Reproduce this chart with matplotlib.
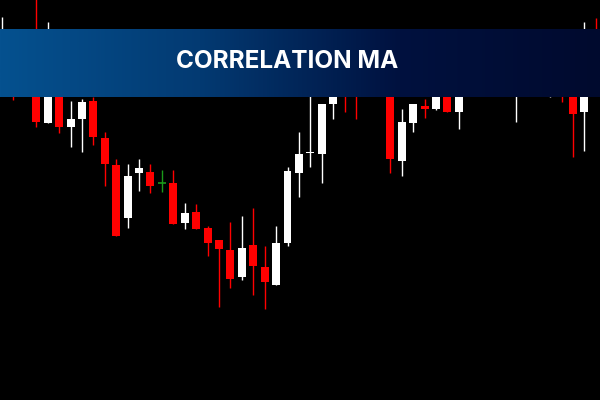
import numpy as np
import matplotlib.pyplot as plt
from matplotlib.colors import LinearSegmentedColormap

# candle data (price units, up = higher)
opens = [315, 350, 360, 340, 277, 320, 273, 281, 299, 262, 235, 182, 227, 228, 217, 217, 177, 188,
         172, 160, 150, 123, 155, 133, 115, 157, 227, 247, 246, 296, 340, 350, 315, 338, 325, 239,
         277, 294, 291, 310, 288, 312, 330, 350, 330, 310, 330, 355, 303, 350, 330, 288, 350]
highs = [383, 355, 365, 402, 378, 325, 299, 301, 303, 268, 241, 236, 241, 236, 230, 230, 197, 196,
         174, 160, 178, 184, 192, 154, 174, 233, 268, 310, 296, 320, 350, 355, 345, 360, 330, 291,
         296, 301, 320, 315, 320, 340, 360, 355, 340, 340, 360, 362, 350, 355, 340, 378, 382]
lows = [310, 300, 320, 273, 277, 267, 253, 248, 255, 214, 164, 172, 209, 207, 208, 176, 171, 171,
        144, 93, 112, 120, 105, 91, 115, 154, 203, 233, 217, 281, 288, 281, 310, 330, 227, 224,
        268, 282, 290, 288, 271, 308, 325, 315, 305, 278, 320, 325, 303, 298, 243, 249, 305]
closes = [360, 304, 330, 278, 330, 273, 281, 298, 263, 236, 164, 224, 232, 214, 217, 176, 187, 171,
          157, 151, 121, 152, 134, 118, 157, 229, 246, 248, 296, 312, 305, 308, 340, 355, 241, 278,
          296, 291, 315, 288, 312, 330, 350, 325, 310, 330, 350, 335, 340, 310, 286, 340, 310]

title = 'CORRELATION MA'

fig = plt.figure(figsize=(6, 4), dpi=100)
fig.patch.set_facecolor('black')
ax = fig.add_axes([0, 0, 1, 1])
ax.set_facecolor('black')

x = np.arange(len(opens))
o = np.array(opens, dtype=float)
h = np.array(highs, dtype=float)
l = np.array(lows, dtype=float)
c = np.array(closes, dtype=float)

colors = np.where(c > o, 'white', np.where(c < o, '#ff0000', '#1a9a1a'))

ax.vlines(x, l, h, colors=colors, linewidth=1.0, zorder=1)
body_h = np.abs(c - o)
bottom = np.minimum(o, c)
ax.bar(x, body_h, bottom=bottom, width=0.7, color=colors, linewidth=0, zorder=2)
# doji ticks
doji = body_h == 0
ax.hlines(o[doji], x[doji] - 0.35, x[doji] + 0.35, colors=colors[doji], linewidth=1.2, zorder=2)

x0, x1 = -2 / 11.42, 598 / 11.42
ax.set_xlim(x0, x1)
ax.set_ylim(0, 400)
ax.axis('off')

# banner with gradient
cmap = LinearSegmentedColormap.from_list('banner', ['#05518f', '#033a72', '#00113f', '#000a2e'])
grad = np.linspace(0, 1, 256).reshape(1, -1)
ax.imshow(grad, cmap=cmap, aspect='auto', extent=(x0, x1, 400 - 97, 400 - 29), zorder=5)

fig.text(287.5 / 600, 1 - 61 / 400, title, color='white', fontsize=17.5, fontweight='bold',
         family=['Inter', 'DejaVu Sans'], ha='center', va='center', zorder=10)

fig.savefig('out.png', dpi=100, facecolor='black')
